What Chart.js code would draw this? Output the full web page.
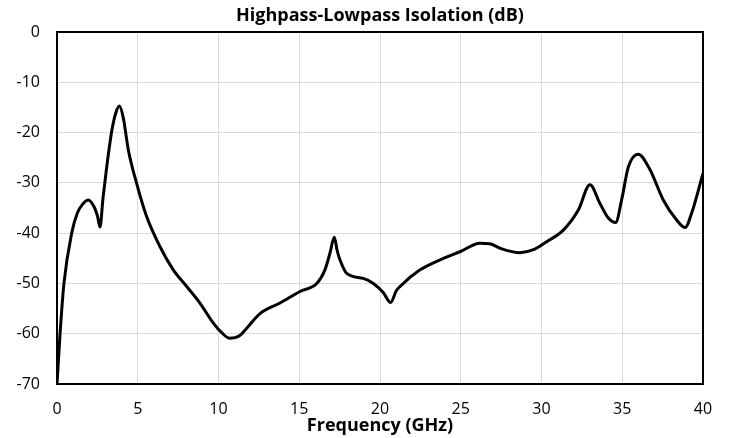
<!DOCTYPE html>
<html lang="en">
<head>
    <meta charset="UTF-8">
    <title>Highpass-Lowpass Isolation</title>
    <script src="https://cdn.jsdelivr.net/npm/chart.js"></script>
    <style>
        body, html {
            margin: 0;
            padding: 0;
            width: 730px;
            height: 438px;
            overflow: hidden;
            background: #fff;
        }
        #wrap { width: 730px; height: 438px; }
    </style>
</head>
<body>
    <div id="wrap"><canvas id="isoChart"></canvas></div>

    <script>
        const freqGHz = [0, 0.19, 0.43, 0.91, 1.26, 1.6, 1.94, 2.3, 2.5, 2.66, 2.85, 3.08, 3.4, 3.65, 3.86, 4.1, 4.42, 4.93, 5.55, 6.38, 7.2, 8.03, 8.85, 9.68, 10.2, 10.7, 11.3, 11.75, 12.57, 13.81, 15.05, 16.08, 16.59, 16.9, 17.17, 17.35, 17.52, 17.94, 18.97, 19.59, 20.2, 20.66, 21.0, 21.24, 22.48, 23.72, 24.95, 26.19, 26.8, 27.43, 28.67, 29.5, 30.32, 31.35, 32.28, 33.0, 33.62, 34.14, 34.59, 34.96, 35.38, 35.99, 36.72, 37.54, 38.37, 38.89, 39.3, 40];
        const isolationDb = [-70, -60, -50, -40, -36, -34.2, -33.4, -34.8, -36.5, -38.8, -33, -26.8, -19.5, -16, -14.7, -17, -23.5, -30.1, -36.7, -42.7, -47.3, -50.6, -53.9, -57.9, -59.8, -60.9, -60.4, -58.9, -56, -53.9, -51.6, -50, -47.3, -44, -40.8, -43.5, -45.3, -48, -49, -50, -51.8, -53.8, -51.5, -50.6, -47.3, -45.3, -43.7, -42, -42.1, -43, -43.9, -43.3, -41.7, -39.4, -35.4, -30.4, -34.1, -37, -37.9, -33.4, -26.8, -24.3, -27.4, -33.4, -37.4, -38.9, -36, -28.1];
        const xTicks = [0, 5, 10, 15, 20, 25, 30, 35, 40];
        const yTicks = [0, -10, -20, -30, -40, -50, -60, -70];

        // box around the plot area
        const frameBox = {
            id: 'frameBox',
            afterDraw(chart) {
                const a = chart.chartArea, c = chart.ctx;
                c.save();
                c.strokeStyle = '#000';
                c.lineWidth = 2;
                c.strokeRect(a.left, a.top, a.right - a.left, a.bottom - a.top);
                c.restore();
            }
        };

        const ctx = document.getElementById('isoChart').getContext('2d');
        new Chart(ctx, {
            type: 'scatter',
            data: {
                datasets: [{
                    label: 'Isolation',
                    data: freqGHz.map((f, i) => ({ x: f, y: isolationDb[i] })),
                    showLine: true,
                    borderColor: '#000',
                    borderWidth: 3,
                    pointRadius: 0,
                    cubicInterpolationMode: 'monotone'
                }]
            },
            options: {
                responsive: true,
                maintainAspectRatio: false,
                animation: false,
                layout: { padding: { left: 0, right: 27, top: 0, bottom: 0 } },
                scales: {
                    x: {
                        type: 'linear',
                        min: 0, max: 40,
                        afterBuildTicks: s => { s.ticks = xTicks.map(v => ({ value: v })); },
                        afterFit: s => { s.height = 54; },
                        grid: { color: '#d9d9d9', lineWidth: 1, drawTicks: false },
                        border: { display: false },
                        ticks: { color: '#000', font: { family: 'Open Sans', size: 16 }, padding: 16 },
                        title: {
                            display: true, text: 'Frequency (GHz)', color: '#000',
                            font: { family: 'Open Sans', size: 18, weight: 'bold' }, padding: { top: 0, bottom: 1 }
                        }
                    },
                    y: {
                        type: 'linear',
                        min: -70, max: 0,
                        afterBuildTicks: s => { s.ticks = yTicks.map(v => ({ value: v })); },
                        afterFit: s => { s.width = 57; },
                        grid: { color: '#d9d9d9', lineWidth: 1, drawTicks: false },
                        border: { display: false },
                        ticks: { color: '#000', font: { family: 'Open Sans', size: 16 }, padding: 17 }
                    }
                },
                plugins: {
                    legend: { display: false },
                    tooltip: { enabled: false },
                    title: {
                        display: true, fullSize: false, text: 'Highpass-Lowpass Isolation (dB)', color: '#000',
                        font: { family: 'Open Sans', size: 18, weight: 'bold' }, padding: { top: 5, bottom: 5.4 }
                    }
                }
            },
            plugins: [frameBox]
        });
    </script>
</body>
</html>
